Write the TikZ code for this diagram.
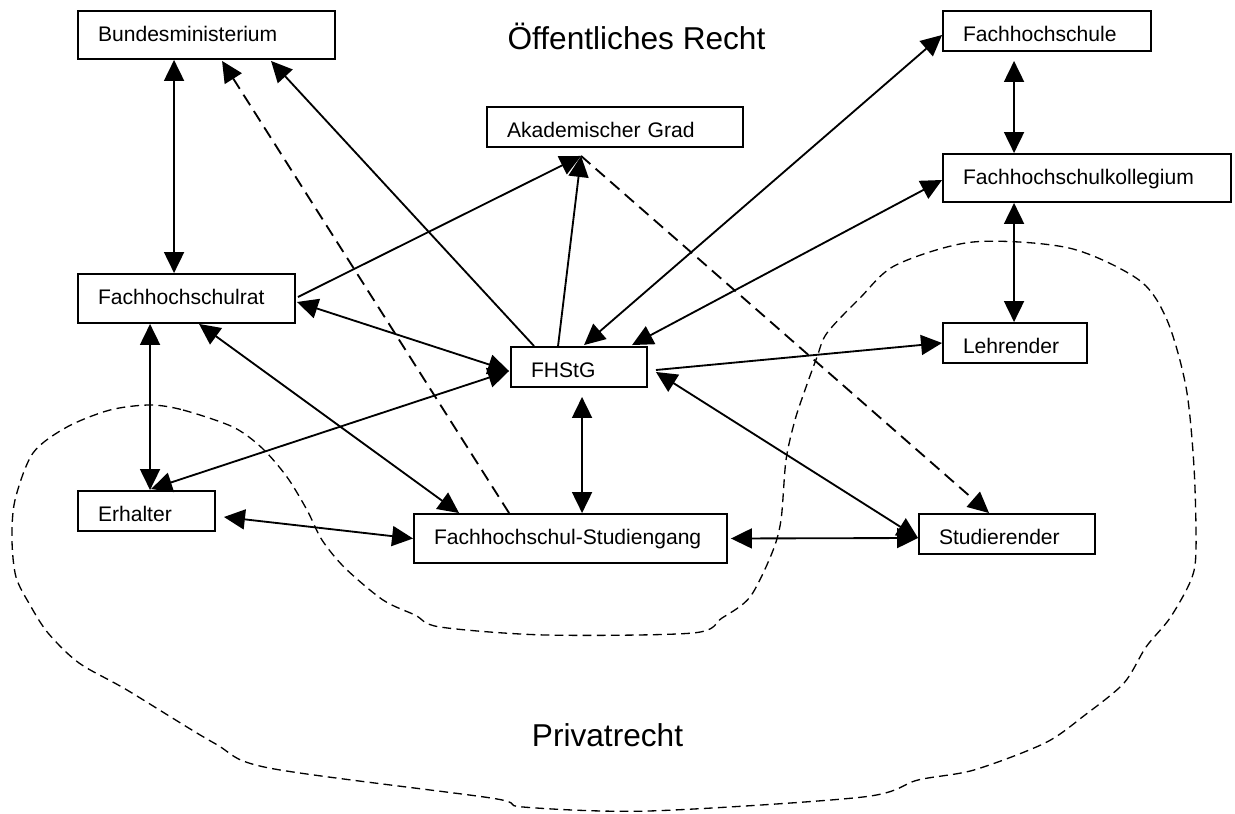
\documentclass[tikz,border=0pt]{standalone}
\usepackage{fontspec}
\setmainfont{Liberation Sans}
\usetikzlibrary{arrows.meta,calc}

\begin{document}
\begin{tikzpicture}[x=0.02cm,y=-0.02cm,
  box/.style={draw, line width=1.1pt, rectangle, inner xsep=0.4cm, inner ysep=0pt,
    align=left, text height=0.61cm, font=\fontsize{12}{14}\selectfont},
  dp40/.style={text depth=0.19cm},
  dp48/.style={text depth=0.35cm},
  dp49/.style={text depth=0.37cm},
  link/.style={line width=1.05pt},
  tip/.tip={Triangle[length=0.42cm,width=0.4cm]},
  both/.style={link, tip-tip},
  one/.style={link, -tip},
  dashlink/.style={dash pattern=on 7pt off 4pt},
  region/.style={line width=0.75pt, dash pattern=on 5pt off 3pt},
  heading/.style={font=\fontsize{18}{21}\selectfont, anchor=base}
]
\useasboundingbox (0,0) rectangle (1235,814);

% boundary between public and private law
\draw[region] plot[smooth cycle, tension=0.5] coordinates {
  (150,405) (183,410) (233,427) (262,448) (287,477) (307,510) (322,540)
  (345,568) (383,600) (415,615) (440,627) (545,635) (693,633) (722,618)
  (750,597) (772,553) (781,520) (786,460) (795,420) (805,390) (817,357)
  (827,333) (860,298) (896,265) (973,242) (1069,248) (1139,280) (1167,320)
  (1186,387) (1194,467) (1196,550) (1191,580) (1170,618) (1146,647)
  (1124,683) (1085,715) (1045,743) (974,770) (918,780) (863,797) (649,811)
  (523,807) (491,798) (269,768) (214,743) (127,690) (79,663) (48,633)
  (30,605) (16,577) (12,540) (15,500) (33,453) (67,427) (110,410)};

\node[heading] (pub) at (636.5,50) {Öffentliches Recht};
\node[heading] (priv) at (607.5,746) {Privatrecht};

% institutions and persons
\node[box,dp48,text width=4.34cm] (bm) at (206.5,35) {Bundesministerium};
\node[box,dp49,text width=3.54cm] (fr) at (186.5,298.5) {Fachhochschulrat};
\node[box,dp40,text width=1.94cm] (er) at (146.5,511) {Erhalter};
\node[box,dp49,text width=5.46cm] (st) at (570.5,538.5) {\mbox{Fachhochschul-Studiengang}};
\node[box,dp40,text width=1.92cm] (fh) at (579,367) {FHStG};
\node[box,dp40,text width=4.32cm] (ag) at (615,127) {Akademischer Grad};
\node[box,dp40,text width=3.36cm] (fs) at (1047,31) {Fachhochschule};
\node[box,dp48,text width=4.96cm] (fk) at (1087,178) {Fachhochschulkollegium};
\node[box,dp40,text width=2.08cm] (le) at (1015,343) {Lehrender};
\node[box,dp40,text width=2.72cm] (sd) at (1007,534) {Studierender};

\coordinate (agin) at ($(ag.south west)+(95,8)$);

% relations
\draw[both] ($(bm.south west)+(97,0)$) -- ($(fr.north west)+(97,0)$);
\draw[one,dashlink] ($(st.north west)+(96,0)$) -- ($(bm.south west)+(145,1)$);
\draw[one] ($(fh.north west)+(24,0)$) -- ($(bm.south west)+(194,1)$);
\draw[one] ($(fr.east)+(2,-1.5)$) -- (agin);
\draw[one] ($(fh.north west)+(48,0)$) -- (agin);
\draw[one,dashlink] (agin) -- ($(sd.north west)+(71,0)$);
\draw[both] ($(fh.north west)+(74,-1)$) -- ($(fs.west)+(0,4)$);
\draw[both] ($(fh.north west)+(122,-1)$) -- ($(fk.west)+(0,2)$);
\draw[one] ($(fh.east)+(8,3)$) -- (le.west);
\draw[both] ($(fh.east)+(8,5)$) -- ($(sd.west)+(0,4)$);
\draw[both] ($(st.east)+(3,0)$) -- ($(sd.west)+(0,4)$);
\draw[both] ($(fh.south west)+(72,9)$) -- ($(st.north west)+(169,0)$);
\draw[both] ($(fr.east)+(1,3.5)$) -- ($(fh.west)+(-1,4)$);
\draw[both] ($(er.north west)+(74,-1)$) -- ($(fh.west)+(-1,4)$);
\draw[both] ($(fr.south west)+(73,0)$) -- ($(er.north west)+(73,0)$);
\draw[both] ($(fr.south west)+(122,0)$) -- ($(st.north west)+(46,0)$);
\draw[both] ($(er.east)+(8,6)$) -- (st.west);
\draw[both] ($(fs.south west)+(72,9)$) -- ($(fk.north west)+(72,0)$);
\draw[both] ($(fk.south west)+(72,0)$) -- ($(le.north west)+(72,0)$);
\end{tikzpicture}
\end{document}
